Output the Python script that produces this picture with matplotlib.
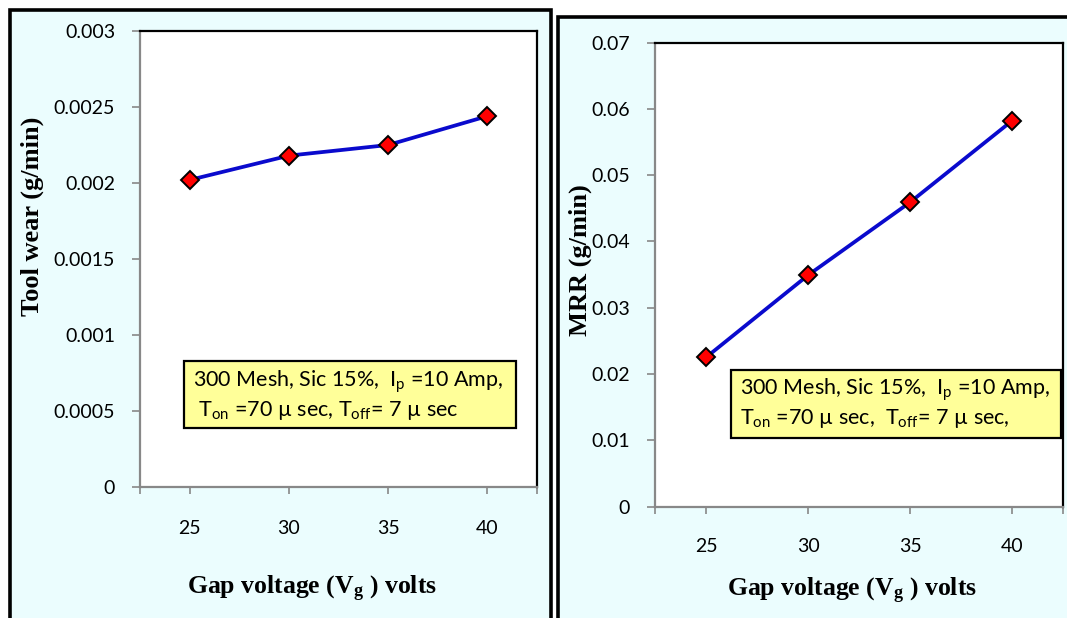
import matplotlib
matplotlib.use("Agg")
import matplotlib.pyplot as plt
from matplotlib.patches import Rectangle

# data
voltage = [25, 30, 35, 40]
tool_wear = [0.00202, 0.00218, 0.00225, 0.00244]
mrr = [0.0225, 0.0349, 0.0459, 0.0582]

wear_ticks = [0, 0.0005, 0.001, 0.0015, 0.002, 0.0025, 0.003]
wear_labels = ["0", "0.0005", "0.001", "0.0015", "0.002", "0.0025", "0.003"]
mrr_ticks = [0, 0.01, 0.02, 0.03, 0.04, 0.05, 0.06, 0.07]
mrr_labels = ["0", "0.01", "0.02", "0.03", "0.04", "0.05", "0.06", "0.07"]

W, H = 1067, 618
BG = "#EBFDFE"
TICKFONT = "Lato"
SERIF = ["Liberation Serif", "DejaVu Serif"]


def fx(px):
    return px / W


def fy(py):
    return 1 - py / H


fig = plt.figure(figsize=(W / 100, H / 100), dpi=100)
fig.patch.set_facecolor("white")

# panel frames (the two pasted excel charts)
fig.patches.append(Rectangle((fx(10), fy(640)), fx(541), fy(10) - fy(640),
                             transform=fig.transFigure, facecolor=BG,
                             edgecolor="black", linewidth=2.6, zorder=-2))
fig.patches.append(Rectangle((fx(558), fy(640)), fx(540), fy(17) - fy(640),
                             transform=fig.transFigure, facecolor=BG,
                             edgecolor="black", linewidth=2.6, zorder=-2))


def make_panel(rect, y, ticks, labels, ymax, ylabel, ylab_xy, xlab_xy, box, textpos, text2, xpad):
    ax = fig.add_axes(rect)
    ax.set_zorder(1)
    ax.set_facecolor("white")
    ax.plot(voltage, y, color="#0A0ACD", linewidth=2.7, marker="D", markersize=9.5,
            markerfacecolor="#FF0000", markeredgecolor="black", markeredgewidth=1.4,
            zorder=3, clip_on=False)
    ax.set_xlim(22.5, 42.5)
    ax.set_ylim(0, ymax)
    ax.set_xticks([22.5, 25, 30, 35, 40, 42.5])
    ax.set_xticklabels(["", "25", "30", "35", "40", ""])
    ax.set_yticks(ticks)
    ax.set_yticklabels(labels)
    for s in ["left", "bottom"]:
        ax.spines[s].set_color("#888888")
        ax.spines[s].set_linewidth(1.6)
    for s in ["top", "right"]:
        ax.spines[s].set_color("black")
        ax.spines[s].set_linewidth(1.6)
    ax.tick_params(axis="y", direction="out", length=6, width=1.2, color="#888888",
                   pad=12, labelsize=14)
    ax.tick_params(axis="x", direction="out", length=5, width=1.2, color="#888888",
                   pad=xpad, labelsize=14)
    for lab in ax.get_xticklabels() + ax.get_yticklabels():
        lab.set_fontfamily(TICKFONT)

    fig.text(fx(ylab_xy[0]), fy(ylab_xy[1]), ylabel, rotation=90, ha="center", va="center",
             fontsize=19, fontweight="bold", family=SERIF)
    fig.text(fx(xlab_xy[0]), fy(xlab_xy[1]), r"Gap voltage (V$\mathregular{_g}$ ) volts",
             ha="center", va="center", fontsize=18.5, fontweight="bold", family=SERIF)

    # yellow note box, drawn above the axes
    x0, y0, x1, y1 = box
    fig.patches.append(Rectangle((fx(x0), fy(y1)), fx(x1 - x0), fy(y0) - fy(y1),
                                 transform=fig.transFigure, facecolor="#FFFF99",
                                 edgecolor="black", linewidth=1.6, zorder=5))
    tx, ty = textpos
    fig.text(fx(tx), fy(ty), r"300 Mesh, Sic 15%,  I$\mathregular{_p}$ =10 Amp,",
             ha="left", va="center", fontsize=15.5, family=TICKFONT, zorder=6)
    fig.text(fx(tx), fy(ty + 29), text2,
             ha="left", va="center", fontsize=15.5, family=TICKFONT, zorder=6)
    return ax


make_panel([fx(140), fy(487), fx(397), fy(31) - fy(487)], tool_wear, wear_ticks, wear_labels,
           0.003, "Tool wear (g/min)", (32, 216), (312, 589), (184, 361, 516, 428), (193, 382),
           r" T$\mathregular{_{on}}$ =70 µ sec, T$\mathregular{_{off}}$= 7 µ sec", 19)

make_panel([fx(655), fy(506.5), fx(408), fy(42.6) - fy(506.5)], mrr, mrr_ticks, mrr_labels,
           0.07, "MRR (g/min)", (580, 260), (852, 591), (731, 370, 1061, 437.5), (740, 390),
           r"T$\mathregular{_{on}}$ =70 µ sec,  T$\mathregular{_{off}}$= 7 µ sec,", 18)

fig.savefig("out.png", dpi=100, facecolor=fig.get_facecolor())
